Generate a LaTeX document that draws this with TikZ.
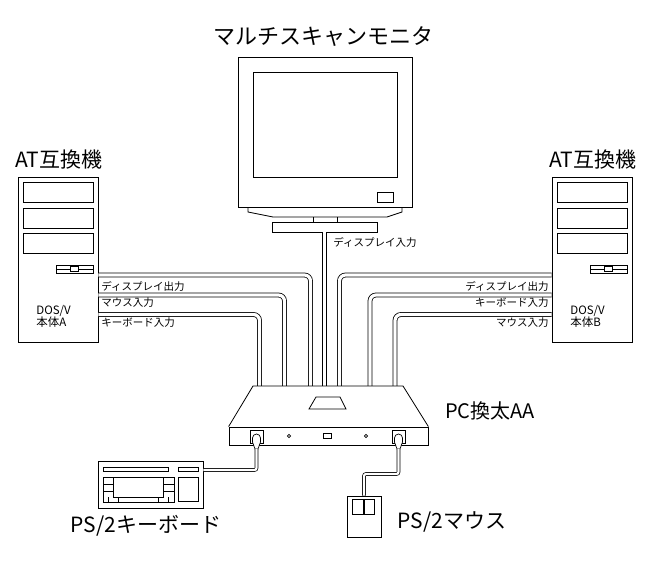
\documentclass[tikz,border=0pt]{standalone}
\usepackage{fontspec}
\setmainfont{Noto Sans CJK JP}
\usetikzlibrary{positioning,calc}
\tikzset{
  box/.style={draw,line width=0.8pt,fill=white,inner sep=0pt},
  cable/.style={line width=0.8pt,double=white,double distance=3.2pt,rounded corners=6pt},
  cord/.style={line width=0.7pt,double=white,double distance=2.2pt,rounded corners=2pt},
  lbl/.style={font=\fontsize{10.5}{11.5}\selectfont,inner sep=0pt},
  ttl/.style={font=\fontsize{21}{23}\selectfont,inner sep=0pt},
}

\begin{document}
\begin{tikzpicture}[x=1pt,y=-1pt,line width=0.8pt]
\useasboundingbox (0,0) rectangle (659,562);
\coordinate (swtop) at (328,386);

% monitor
\node[ttl,font=\fontsize{22}{24}\selectfont] (monT) at (323,37) {マルチスキャンモニタ};
\node[box,minimum width=174pt,minimum height=150pt] (mon) at (325,132) {};
\node[box,minimum width=144pt,minimum height=105pt] (scr) at (325,124.5) {};
\node[box,minimum width=16pt,minimum height=10pt] (btn) at (385,197) {};
\draw (248,207) -- (248,212) -- (273,217) -- (387,217) -- (402,212) -- (402,207);
\draw (313,217) -- (313,222) (337,217) -- (337,222);
\node[box,minimum width=105pt,minimum height=10pt] (stand) at (324.5,227) {};
\draw[cable] (stand.south) -- (stand.south |- swtop);
\node[lbl,anchor=west] (dispM) at (333,242) {ディスプレイ入力};

% AT machines
\foreach \pc/\dx in {A/0,B/534} {
\begin{scope}[xshift=\dx]
\node[box,minimum width=80pt,minimum height=165pt] (pc\pc) at (58,259.5) {};
\foreach \y in {182,208,233}
  \draw (23,\y) rectangle ++(70,20);
\draw (56,265) rectangle ++(37,8);
\draw (56,269) -- ++(37,0);
\draw[fill=white] (70,266.5) rectangle ++(8,5);
\node[ttl] (at\pc) at (59,160) {AT互換機};
\node[lbl,font=\fontsize{11.5}{11}\selectfont,align=left,anchor=west] (dos\pc) at (36,316.5) {DOS/V\\本体\pc};
\end{scope}
}

% cables into the switch
\foreach \y/\x in {275/310.5,295/284.5,314.5/259.5}
  \draw[cable] (pcA.east |- 0,\y) -| (\x,386);
\foreach \y/\x in {275/339.5,295/370,314.5/395}
  \draw[cable] (pcB.west |- 0,\y) -| (\x,386);
\node[lbl,anchor=west] (dispA) at (101,286) {ディスプレイ出力};
\node[lbl,anchor=west] (mouseA) at (101,303) {マウス入力};
\node[lbl,anchor=west] (keyA) at (101,323) {キーボード入力};
\node[lbl,anchor=east] (dispB) at (549,286) {ディスプレイ出力};
\node[lbl,anchor=east] (keyB) at (549,303) {キーボード入力};
\node[lbl,anchor=east] (mouseB) at (549,323) {マウス入力};

% switch box
\node[box,minimum width=199pt,minimum height=18pt] (sw) at (328.5,436) {};
\draw[fill=white] (sw.north west) -- (253,386) -- (403,386) -- (sw.north east);
\draw (309,409) -- (316,397) -- (340,397) -- (346,409) -- cycle;
\draw (289,436) circle[radius=1.6] (366,436) circle[radius=1.6];
\draw (323,433) rectangle (331,438);
\node[ttl,font=\fontsize{20}{22}\selectfont] (swT) at (490,411) {PC換太AA};
\draw (250,430) rectangle (263,443);
\draw (392,430) rectangle (405,443);
\coordinate (plugA) at (256.5,449);
\coordinate (plugB) at (398.5,449);
\foreach \p in {plugA,plugB}
  \draw[fill=white,line width=0.7pt] ($(\p)+(-4,-11)$) arc[start angle=180,end angle=360,radius=4]
    -- ++(0,4) -- ($(\p)+(1.5,0)$) -- ($(\p)+(-1.5,0)$) -- ($(\p)+(-4,-7)$) -- cycle;

% keyboard
\node[box,minimum width=105pt,minimum height=47pt] (kb) at (150.5,484.5) {};
\draw (103,467) rectangle (168,471);
\draw (178,467) rectangle (198,471);
\draw (178,477) rectangle (198,501);
\draw (103,477) rectangle (174,502);
\draw (113,477) rectangle (163,497);
\draw (103,484) -- (113,484) (103,491) -- (113,491);
\draw (163,484) -- (174,484) (163,491) -- (174,491);
\foreach \x in {108,118,158,168}
  \draw (\x,497) -- (\x,502);
\draw[cord] (plugA) |- (kb.east |- 0,470);
\node[ttl] (kbT) at (146,526) {PS/2キーボード};

% mouse
\node[box,minimum width=34pt,minimum height=41pt] (ms) at (364,516.5) {};
\draw (352,499) rectangle (363,514);
\draw (364,499) rectangle (374,514);
\draw[cord] (plugB) -- (398.5,474) -| (ms.north);
\node[ttl] (msT) at (452,522) {PS/2マウス};
\end{tikzpicture}
\end{document}
